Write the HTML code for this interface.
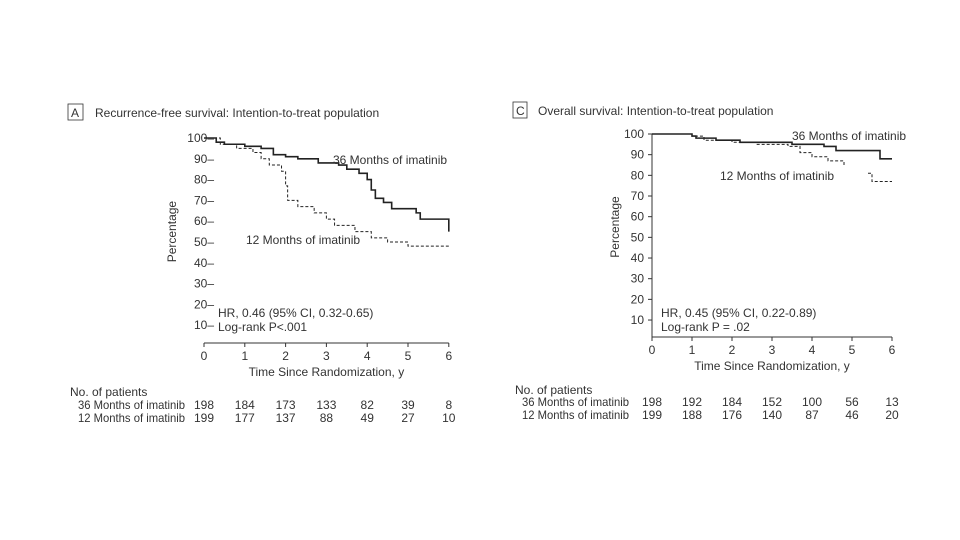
<!DOCTYPE html>
<html><head><meta charset="utf-8"><style>
body{margin:0;background:#fff;}
svg{display:block;font-family:"Liberation Sans",sans-serif;fill:#333;}
text{font-size:12px;}
</style></head><body>
<svg id="s" width="960" height="540">
<g>
<rect x="68" y="104" width="15" height="16" fill="none" stroke="#333" stroke-width="0.8"/>
<text x="71" y="117" font-size="13">A</text>
<text x="95" y="117" font-size="13.5">Recurrence-free survival: Intention-to-treat population</text>
</g>
<g>
<rect x="513" y="102" width="14" height="16" fill="none" stroke="#333" stroke-width="0.8"/>
<text x="516" y="115" font-size="13">C</text>
<text x="538" y="115" font-size="13.5">Overall survival: Intention-to-treat population</text>
</g>
<g id="pa"></g>
<g id="pc"></g>
</svg>
<script>
const ticksX=[0,1,2,3,4,5,6];
const ticksY=[10,20,30,40,50,60,70,80,90,100];
const aT36=[0,0.3,0.5,1,1.4,1.7,2,2.3,2.8,3.3,3.5,3.8,4,4.1,4.2,4.4,4.6,5,5.2,5.3,6,6];
const aV36=[100,98,97,96,95,92,91,90,88,87,85,83,80,75,71,69,66,66,64,61,61,55];
const aT12=[0,0.4,0.8,1.2,1.4,1.6,1.9,2,2.05,2.3,2.7,3,3.2,3.7,4.1,4.5,5,6];
const aV12=[100,97,95,93,90,87,84,77,70,67,64,61,58,55,52,50,48,48];
const cT36=[0,1,1.1,1.6,2.2,3.5,4.3,4.6,5.7,6];
const cV36=[100,99,98,97,96,95,94,92,88,88];
const cT12=[0,1,1.3,2,2.6,3.4,3.7,4,4.4,4.8];
const cV12=[100,99,97,96,95,94,91,89,87,85];
const cT12b=[5.4,5.5,6];
const cV12b=[81,77,77];
const aRisk36=[198,184,173,133,82,39,8];
const aRisk12=[199,177,137,88,49,27,10];
const cRisk36=[198,192,184,152,100,56,13];
const cRisk12=[199,188,176,140,87,46,20];
const NS="http://www.w3.org/2000/svg";
function mk(p,tag,at,txt){const e=document.createElementNS(NS,tag);for(const k in at)e.setAttribute(k,at[k]);if(txt!=null)e.textContent=txt;p.appendChild(e);return e;}
function step(T,V,sx,sy){let d="M"+sx(T[0])+","+sy(V[0]);for(let i=1;i<T.length;i++){d+=" H"+sx(T[i])+" V"+sy(V[i]);}return d;}
function panel(g,o){
 const sx=t=>o.x0+t*o.kx, sy=v=>o.y100+(100-v)*o.ky;
 const ax=mk(g,"line",{x1:sx(0),x2:sx(6),y1:o.axY,y2:o.axY,stroke:"#333","stroke-width":1});
 
 
 if(o.yline){const yl=mk(g,"line",{x1:sx(0),x2:sx(0),y1:sy(100),y2:o.axY,stroke:"#333","stroke-width":1});
 
 }
 ticksX.forEach(t=>{
  mk(g,"line",{x1:sx(t),x2:sx(t),y1:o.axY,y2:o.axY+4,stroke:"#333"});
  const l=mk(g,"text",{x:sx(t),y:o.axY+17,"text-anchor":"middle","font-size":12.5},String(t));
  
  
 });
 ticksY.forEach(v=>{
  const l=mk(g,"text",{x:o.labX,y:sy(v)+4,"text-anchor":"end","font-size":12},String(v)+(o.yline?"":"–"));
  
  
  if(o.yline)mk(g,"line",{x1:sx(0)-4,x2:sx(0),y1:sy(v),y2:sy(v),stroke:"#333"});
 });
 const xt=mk(g,"text",{x:(sx(0)+sx(6))/2,y:o.axY+33,"text-anchor":"middle","font-size":13},"Time Since Randomization, y");
 
 
 const yt=mk(g,"text",{x:0,y:0,"text-anchor":"middle","font-size":13,transform:`translate(${o.yTitleX},${sy(55)}) rotate(-90)`},"Percentage");
 
 
 o.series.forEach(s=>{
  const p=mk(g,"path",{d:step(s.T,s.V,sx,sy),fill:"none",stroke:"#222","stroke-width":s.dash?1:1.6,"stroke-dasharray":s.dash?"3,2":"none"});
  
  
 });
 o.labels.forEach(l=>{const e=mk(g,"text",{x:l[0],y:l[1],"font-size":12},l[2]);
  
  });
 const nh=mk(g,"text",{x:o.tabX,y:o.tabY,"font-size":12},"No. of patients");
 
 
 [["36 Months of imatinib",o.r36],["12 Months of imatinib",o.r12]].forEach((r,i)=>{
  const y=o.tabY+13*(i+1)+o.rowOff;
  const rl=mk(g,"text",{x:o.tabX+o.rowLabOff,y:y,"font-size":12,textLength:107,lengthAdjust:"spacingAndGlyphs"},r[0]);
  
  
  r[1].forEach((n,j)=>{const c=mk(g,"text",{x:sx(ticksX[j]),y:y,"text-anchor":"middle","font-size":12},String(n));
   
   });
 });
}
panel(document.getElementById("pa"),{x0:204,kx:40.8,y100:138,ky:2.08,axY:343,labX:214,yline:false,yTitleX:176,
 series:[{T:aT36,V:aV36,name:"line-36-months"},{T:aT12,V:aV12,dash:true,name:"line-12-months"}],
 labels:[[333,164,"36 Months of imatinib"],[246,244,"12 Months of imatinib"],[218,317,"HR, 0.46 (95% CI, 0.32-0.65)"],[218,331,"Log-rank P<.001"]],
 tabX:70,tabY:396,rowOff:0,rowLabOff:8,r36:aRisk36,r12:aRisk12});
panel(document.getElementById("pc"),{x0:652,kx:40,y100:134,ky:2.067,axY:337,labX:644,yline:true,yTitleX:619,
 series:[{T:cT36,V:cV36,name:"line-36-months"},{T:cT12,V:cV12,dash:true,name:"line-12-months"},{T:cT12b,V:cV12b,dash:true,name:"line-12-months-tail"}],
 labels:[[792,140,"36 Months of imatinib"],[720,180,"12 Months of imatinib"],[661,317,"HR, 0.45 (95% CI, 0.22-0.89)"],[661,331,"Log-rank P = .02"]],
 tabX:515,tabY:394,rowOff:-1,rowLabOff:7,r36:cRisk36,r12:cRisk12});
</script>
</body></html>
